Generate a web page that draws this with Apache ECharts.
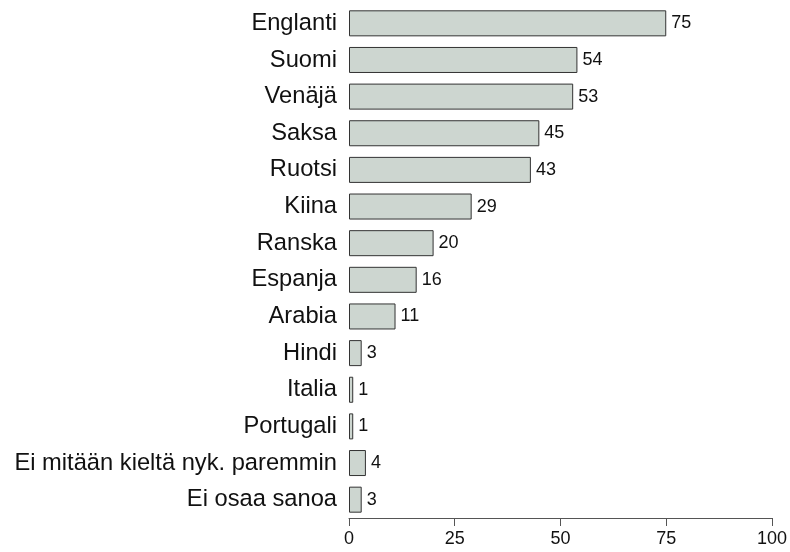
<!DOCTYPE html>
<html><head><meta charset="utf-8">
<script src="https://cdn.jsdelivr.net/npm/echarts@6/dist/echarts.min.js"></script>
<style>html,body{margin:0;padding:0;background:#fff}#c{width:790px;height:552px}</style>
</head><body><div id="c"></div>
<script>
var categories = ["Englanti","Suomi","Venäjä","Saksa","Ruotsi","Kiina","Ranska","Espanja","Arabia","Hindi","Italia","Portugali","Ei mitään kieltä nyk. paremmin","Ei osaa sanoa"];
var values = [75,54,53,45,43,29,20,16,11,3,1,1,4,3];
var xTicks = [0,25,50,75,100];
var chart = echarts.init(document.getElementById('c'));
chart.setOption({
  animation:false,
  grid:{left:349,right:18,top:5,bottom:34,containLabel:false},
  xAxis:{type:'value',min:0,max:100,interval:25,
    axisLine:{show:true,lineStyle:{color:'#555',width:1}},
    axisTick:{show:true,length:8,lineStyle:{color:'#555'}},
    splitLine:{show:false},
    axisLabel:{color:'#111',fontSize:18,fontFamily:'Liberation Sans, Arial',margin:12,
      formatter:function(v){return xTicks.indexOf(v)>=0?String(v):'';}}},
  yAxis:{type:'category',data:categories,inverse:true,
    axisLine:{show:false},axisTick:{show:false},
    axisLabel:{color:'#111',fontSize:23.7,fontFamily:'Liberation Sans, Arial',margin:12}},
  series:[{type:'bar',data:values,barWidth:'71%',
    itemStyle:{color:'#cdd6d0',borderColor:'#333',borderWidth:1},
    label:{show:true,position:'right',distance:5,color:'#111',fontSize:18,fontFamily:'Liberation Sans, Arial'}}]
});
</script></body></html>
